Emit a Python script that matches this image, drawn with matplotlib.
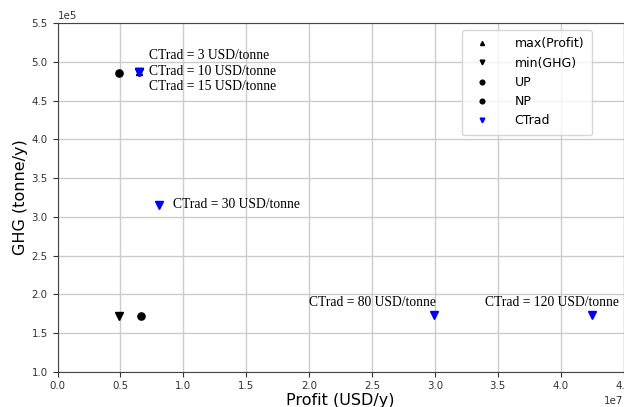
import matplotlib
matplotlib.use("Agg")
import matplotlib.pyplot as plt

# Data
maxprofit_x = [6.5e6]
maxprofit_y = [4.865e5]
mingh_x = [4.9e6]
mingh_y = [1.725e5]
up_x = [4.85e6]
up_y = [4.855e5]
np_x = [6.6e6]
np_y = [1.72e5]
ctrad_x = [6.5e6, 6.5e6, 6.5e6, 8.1e6, 2.99e7, 4.246e7]
ctrad_y = [4.865e5, 4.865e5, 4.865e5, 3.154e5, 1.728e5, 1.728e5]
ctrad_labels = ["CTrad = 3 USD/tonne", "CTrad = 10 USD/tonne", "CTrad = 15 USD/tonne",
                "CTrad = 30 USD/tonne", "CTrad = 80 USD/tonne", "CTrad = 120 USD/tonne"]
label_x = [7.27e6, 7.27e6, 7.27e6, 9.21e6, 2.0e7, 3.4e7]
label_y = [5.083e5, 4.872e5, 4.682e5, 3.154e5, 1.891e5, 1.891e5]

fig = plt.figure(figsize=(6.24, 4.07), dpi=100)
ax = fig.add_axes([57.5/624, 1-371.7/407, (623.5-57.5)/624, (371.7-23.3)/407])

ms = 5.2
ax.plot(maxprofit_x, maxprofit_y, linestyle='none', marker='^', color='black', ms=ms*0.85, label='max(Profit)', zorder=3)
ax.plot(mingh_x, mingh_y, linestyle='none', marker='v', color='black', ms=ms, label='min(GHG)', zorder=3)
ax.plot(up_x, up_y, linestyle='none', marker='o', color='black', ms=ms, label='UP', zorder=3)
ax.plot(np_x, np_y, linestyle='none', marker='o', color='black', ms=ms, label='NP', zorder=3)
ax.plot(ctrad_x, ctrad_y, linestyle='none', marker='v', color='blue', ms=ms, label='CTrad', zorder=4)

for tx, ty, t in zip(label_x, label_y, ctrad_labels):
    ax.text(tx, ty, t, family='Liberation Serif', fontsize=9.8, ha='left', va='center', color='black')

ax.set_xlim(0, 4.5e7)
ax.set_ylim(1.0e5, 5.5e5)
ax.set_xticks([i*0.5e7 for i in range(10)])
ax.set_yticks([1e5 + i*0.5e5 for i in range(10)])
ax.ticklabel_format(axis='both', style='sci', scilimits=(0, 0), useOffset=False)
ax.grid(True, color='#cccccc', linewidth=1.0)
ax.set_axisbelow(True)
ax.tick_params(labelsize=7.4, colors='#333333')
for s in ax.spines.values():
    s.set_color('#444444')
ax.xaxis.get_offset_text().set_fontsize(7.4)
ax.yaxis.get_offset_text().set_fontsize(7.4)
ax.set_xlabel('Profit (USD/y)', fontsize=11.5, labelpad=1)
ax.set_ylabel('GHG (tonne/y)', fontsize=11.5, labelpad=2.5)

ax.legend(loc='upper right', bbox_to_anchor=(591.7/624, 1-30/407), bbox_transform=fig.transFigure,
          borderaxespad=0, fontsize=9, markerscale=0.65, handletextpad=1.6, borderpad=0.6)

fig.savefig('out.png', dpi=100)
